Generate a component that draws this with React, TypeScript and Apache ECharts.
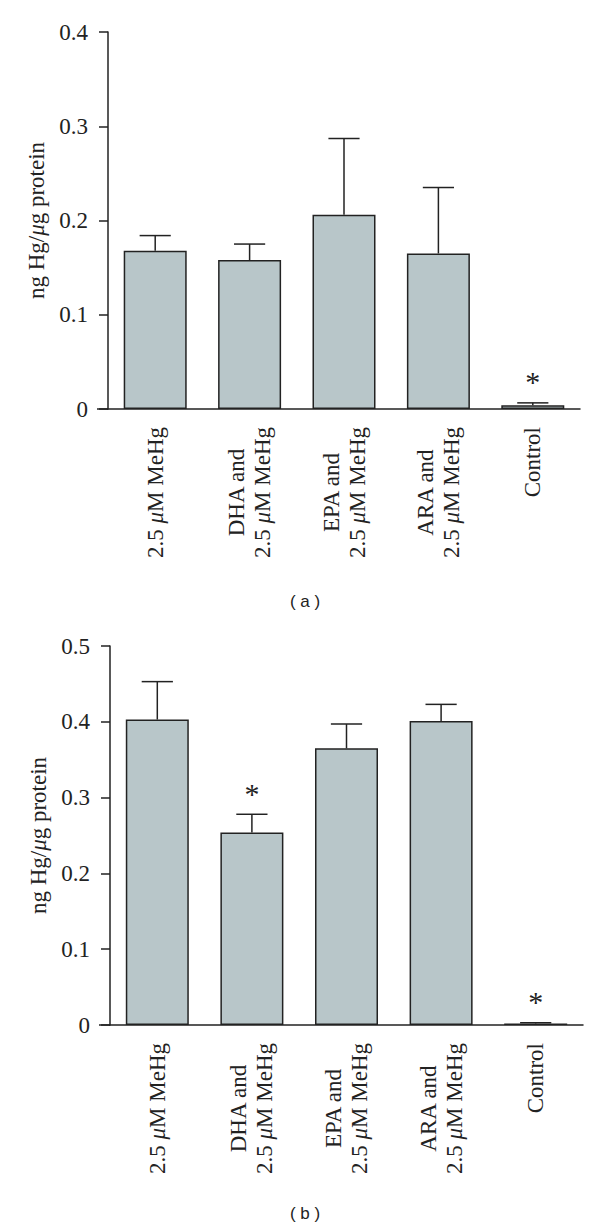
import React, { useEffect, useRef } from "react";
import * as echarts from "echarts";

const categories = [
  "2.5 μM MeHg",
  "DHA and\n2.5 μM MeHg",
  "EPA and\n2.5 μM MeHg",
  "ARA and\n2.5 μM MeHg",
  "Control",
];

// panel (a)
const meanA = [0.168, 0.158, 0.206, 0.165, 0.004];
const errA = [0.016, 0.017, 0.081, 0.07, 0.0025];
const sigA = [0, 0, 0, 0, 1];
const ticksA = { min: 0, max: 0.4, interval: 0.1 };

// panel (b)
const meanB = [0.403, 0.254, 0.365, 0.401, 0.002];
const errB = [0.05, 0.024, 0.032, 0.022, 0.001];
const sigB = [0, 1, 0, 0, 1];
const ticksB = { min: 0, max: 0.5, interval: 0.1 };

const yName = "{a|ng Hg/}{i|μ}{a|g protein}";
const panelLabels = ["( a )", "( b )"];

const SERIF = "Liberation Serif";
const INK = "#222";
const FILL = "#b8c6c9";

const toRich = (s: string) =>
  s
    .split("\n")
    .map((line) =>
      line
        .split("μ")
        .map((p) => (p ? `{a|${p}}` : ""))
        .join("{i|μ}")
    )
    .join("\n");

export default function App() {
  const ref = useRef<HTMLDivElement>(null);

  useEffect(() => {
    document.body.style.margin = "0";
    const chart = echarts.init(ref.current!, null, { renderer: "svg" });

    const grids = [
      { left: 108, right: 20, top: 32, height: 377 },
      { left: 110, right: 17, top: 646, height: 379 },
    ];

    const xAxis = grids.map((_, i) => ({
      type: "category",
      gridIndex: i,
      data: categories,
      axisLine: { lineStyle: { color: INK, width: 1.5 } },
      axisTick: { alignWithLabel: true, length: 8, lineStyle: { color: INK, width: 1.5 } },
      axisLabel: {
        rotate: 90,
        margin: 18,
        interval: 0,
        fontFamily: SERIF,
        fontSize: 23,
        formatter: (v: string) => toRich(v),
        rich: {
          a: { fontFamily: SERIF, fontSize: 23, color: INK, align: "center", lineHeight: 26 },
          i: { fontFamily: SERIF, fontSize: 23, color: INK, fontStyle: "italic", align: "center", lineHeight: 26 },
        },
      },
    }));

    const yAxis = [ticksA, ticksB].map((t, i) => ({
      type: "value",
      gridIndex: i,
      min: t.min,
      max: t.max,
      interval: t.interval,
      name: yName,
      nameLocation: "middle",
      nameGap: 60,
      nameTextStyle: {
        fontFamily: SERIF,
        fontSize: 23,
        rich: {
          a: { fontFamily: SERIF, fontSize: 23, color: INK },
          i: { fontFamily: SERIF, fontSize: 23, color: INK, fontStyle: "italic" },
        },
      },
      splitLine: { show: false },
      axisLine: { show: true, lineStyle: { color: INK, width: 1.5 } },
      axisTick: { show: true, length: 9, lineStyle: { color: INK, width: 1.5 } },
      axisLabel: { margin: 20, fontFamily: SERIF, fontSize: 23, color: INK },
    }));

    const barSeries = [meanA, meanB].map((m, i) => ({
      type: "bar",
      xAxisIndex: i,
      yAxisIndex: i,
      data: m,
      barWidth: 63,
      itemStyle: { color: FILL, borderColor: INK, borderWidth: 1.5 },
      silent: true,
    }));

    const errSeries = [
      [meanA, errA, sigA],
      [meanB, errB, sigB],
    ].map(([m, e, s], i) => ({
      type: "custom",
      xAxisIndex: i,
      yAxisIndex: i,
      silent: true,
      z: 5,
      data: m.map((v, k) => [k, v, v + e[k], s[k]]),
      renderItem: (params: any, api: any) => {
        const x = api.value(0);
        const base = api.coord([x, api.value(1)]);
        const top = api.coord([x, api.value(2)]);
        const half = api.size([1, 0])[0] * 0.165;
        const st = { stroke: INK, lineWidth: 1.5 };
        const children: any[] = [
          { type: "line", shape: { x1: base[0], y1: base[1], x2: top[0], y2: top[1] }, style: st },
          { type: "line", shape: { x1: top[0] - half, y1: top[1], x2: top[0] + half, y2: top[1] }, style: st },
        ];
        if (api.value(3)) {
          children.push({
            type: "text",
            style: {
              text: "*",
              x: top[0],
              y: top[1] - 6,
              textAlign: "center",
              textVerticalAlign: "bottom",
              fontFamily: SERIF,
              fontSize: 30,
              fill: INK,
            },
          });
        }
        return { type: "group", children };
      },
    }));

    chart.setOption({
      animation: false,
      textStyle: { fontFamily: SERIF },
      grid: grids,
      xAxis,
      yAxis,
      series: [...barSeries, ...errSeries],
      graphic: [
        { type: "line", shape: { x1: 97, y1: 409, x2: 108, y2: 409 }, style: { stroke: INK, lineWidth: 1.5 } },
        { type: "line", shape: { x1: 99, y1: 1025, x2: 110, y2: 1025 }, style: { stroke: INK, lineWidth: 1.5 } },
        {
          type: "text",
          x: 305,
          y: 601,
          style: {
            text: panelLabels[0],
            textAlign: "center",
            textVerticalAlign: "middle",
            fontFamily: "Liberation Sans",
            fontSize: 17,
            fill: INK,
          },
        },
        {
          type: "text",
          x: 305,
          y: 1213,
          style: {
            text: panelLabels[1],
            textAlign: "center",
            textVerticalAlign: "middle",
            fontFamily: "Liberation Sans",
            fontSize: 17,
            fill: INK,
          },
        },
      ],
    });

    return () => chart.dispose();
  }, []);

  return <div ref={ref} style={{ width: 600, height: 1231, background: "#fff" }} />;
}
